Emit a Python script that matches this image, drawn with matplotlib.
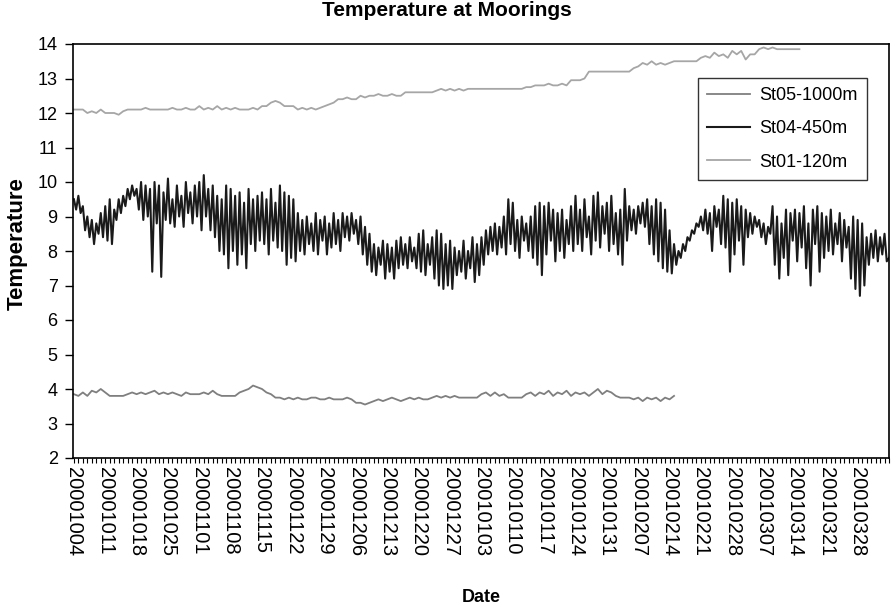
import numpy as np
import matplotlib
matplotlib.use("Agg")
import matplotlib.pyplot as plt
from matplotlib.ticker import FixedLocator, NullFormatter

plt.rcParams['font.family'] = ['Liberation Sans', 'DejaVu Sans']

# ---------------- data ----------------
tick_labels = ["20001004", "20001011", "20001018", "20001025", "20001101",
               "20001108", "20001115", "20001122", "20001129", "20001206",
               "20001213", "20001220", "20001227", "20010103", "20010110",
               "20010117", "20010124", "20010131", "20010207", "20010214",
               "20010221", "20010228", "20010307", "20010314", "20010321",
               "20010328"]

# St05-1000m, daily values (day 0 = 20001004)
st05_1000m = [
    3.85, 3.8, 3.9, 3.8, 3.95, 3.9, 4.0,
    3.9, 3.8, 3.8, 3.8, 3.8, 3.85, 3.9,
    3.85, 3.9, 3.85, 3.9, 3.95, 3.85, 3.9,
    3.85, 3.9, 3.85, 3.8, 3.9, 3.85, 3.85,
    3.85, 3.9, 3.85, 3.95, 3.85, 3.8, 3.8,
    3.8, 3.8, 3.9, 3.95, 4.0, 4.1, 4.05,
    4.0, 3.9, 3.85, 3.75, 3.75, 3.7, 3.75,
    3.7, 3.75, 3.7, 3.7, 3.75, 3.75, 3.7,
    3.7, 3.75, 3.7, 3.7, 3.7, 3.75, 3.7,
    3.6, 3.6, 3.55, 3.6, 3.65, 3.7, 3.65,
    3.7, 3.75, 3.7, 3.65, 3.7, 3.75, 3.7,
    3.75, 3.7, 3.7, 3.75, 3.8, 3.75, 3.8,
    3.75, 3.8, 3.75, 3.75, 3.75, 3.75, 3.75,
    3.85, 3.9, 3.8, 3.9, 3.8, 3.85, 3.75,
    3.75, 3.75, 3.75, 3.85, 3.9, 3.8, 3.9,
    3.85, 3.95, 3.8, 3.9, 3.85, 3.95, 3.8,
    3.9, 3.85, 3.9, 3.8, 3.9, 4.0, 3.85,
    3.95, 3.9, 3.8, 3.75, 3.75, 3.75, 3.7,
    3.75, 3.65, 3.75, 3.7, 3.75, 3.65, 3.75,
    3.7, 3.8,
]

# St04-450m, half-daily values
st04_450m = [
    9.5, 9.2, 9.6, 9.1, 9.3, 8.6, 9.0, 8.4, 8.9, 8.2, 8.8, 8.5, 9.1, 8.4,
    9.3, 8.3, 9.5, 8.2, 9.2, 8.9, 9.5, 9.1, 9.6, 9.3, 9.8, 9.5, 9.9, 9.6,
    9.8, 9.2, 10.0, 8.9, 9.9, 9.0, 9.8, 7.4, 10.0, 8.8, 9.9, 7.25, 9.7, 8.9,
    10.1, 8.8, 9.5, 8.7, 9.9, 9.0, 9.6, 8.7, 10.0, 9.1, 9.7, 8.8, 9.9, 9.0,
    10.0, 8.6, 10.2, 9.0, 9.8, 8.6, 9.9, 8.4, 9.6, 8.0, 9.5, 7.9, 9.9, 7.5,
    9.8, 8.0, 9.6, 7.6, 9.7, 7.9, 9.4, 7.5, 9.8, 8.2, 9.5, 8.0, 9.6, 8.3,
    9.7, 8.2, 9.5, 7.9, 9.8, 8.3, 9.4, 8.1, 9.9, 8.0, 9.7, 7.6, 9.6, 7.8,
    9.5, 7.7, 9.1, 8.0, 8.9, 7.9, 9.0, 8.2, 8.8, 8.0, 9.1, 7.9, 8.9, 8.3,
    9.0, 7.9, 8.8, 8.1, 9.1, 8.2, 8.9, 8.0, 9.1, 8.4, 9.0, 8.3, 9.1, 8.5,
    8.9, 8.2, 9.0, 7.9, 8.7, 7.6, 8.5, 7.4, 8.2, 7.3, 8.1, 7.6, 8.3, 7.2,
    8.2, 7.4, 8.1, 7.2, 8.3, 7.5, 8.4, 7.6, 8.2, 7.5, 8.4, 7.7, 8.1, 7.5,
    8.5, 7.4, 8.6, 7.3, 8.2, 7.6, 8.4, 7.2, 8.6, 7.0, 8.5, 6.9, 8.2, 7.0,
    8.3, 6.9, 8.1, 7.3, 8.0, 7.4, 8.3, 7.2, 8.0, 7.5, 8.4, 7.1, 8.2, 7.3,
    8.4, 7.6, 8.6, 7.9, 8.7, 8.0, 8.8, 7.9, 8.7, 8.1, 9.0, 7.9, 9.5, 8.2,
    9.4, 8.0, 8.9, 7.8, 9.0, 8.3, 8.8, 8.0, 9.0, 7.8, 9.3, 7.6, 9.4, 7.3,
    9.3, 7.9, 9.4, 8.3, 9.2, 7.7, 9.1, 8.0, 9.2, 7.8, 8.9, 8.2, 9.3, 8.0,
    9.6, 8.2, 9.2, 8.0, 9.5, 8.4, 9.0, 7.9, 9.6, 8.3, 9.7, 8.1, 9.3, 8.5,
    9.4, 8.0, 9.6, 8.2, 9.1, 7.9, 9.2, 7.6, 9.8, 8.3, 9.3, 8.6, 9.2, 8.5,
    9.3, 8.8, 9.4, 8.7, 9.5, 8.2, 9.3, 7.9, 9.5, 7.7, 9.4, 7.5, 9.2, 7.4,
    8.6, 7.35, 8.2, 7.6, 8.0, 7.8, 8.2, 8.0, 8.4, 8.3, 8.6, 8.5, 8.8, 8.7,
    9.0, 8.6, 9.2, 8.5, 9.1, 8.0, 9.3, 8.7, 9.2, 8.2, 9.6, 8.1, 9.5, 7.4,
    9.4, 7.9, 9.5, 8.3, 9.3, 7.6, 9.2, 8.4, 9.1, 8.5, 9.0, 8.7, 8.9, 8.4,
    8.8, 8.2, 8.7, 8.5, 9.3, 7.6, 9.0, 7.2, 8.8, 7.8, 9.2, 7.3, 9.1, 8.3,
    9.2, 7.7, 9.1, 8.1, 9.3, 7.5, 8.8, 7.0, 9.2, 8.2, 9.3, 7.4, 9.1, 7.8,
    9.0, 8.0, 9.2, 7.9, 8.8, 8.2, 9.1, 7.7, 8.9, 8.1, 8.7, 7.2, 9.0, 6.9,
    8.9, 6.7, 8.8, 7.0, 8.4, 7.6, 8.5, 7.8, 8.6, 7.7, 8.4, 7.9, 8.5, 7.7,
    7.8,
]

# St01-120m, daily values
st01_120m = [
    12.1, 12.1, 12.1, 12.0, 12.05, 12.0, 12.1,
    12.0, 12.0, 12.0, 11.95, 12.05, 12.1, 12.1,
    12.1, 12.1, 12.15, 12.1, 12.1, 12.1, 12.1,
    12.1, 12.15, 12.1, 12.1, 12.15, 12.1, 12.1,
    12.2, 12.1, 12.15, 12.1, 12.2, 12.1, 12.15,
    12.1, 12.15, 12.1, 12.1, 12.1, 12.15, 12.1,
    12.2, 12.2, 12.3, 12.35, 12.3, 12.2, 12.2,
    12.2, 12.1, 12.15, 12.1, 12.15, 12.1, 12.15,
    12.2, 12.25, 12.3, 12.4, 12.4, 12.45, 12.4,
    12.4, 12.5, 12.45, 12.5, 12.5, 12.55, 12.5,
    12.5, 12.55, 12.5, 12.5, 12.6, 12.6, 12.6,
    12.6, 12.6, 12.6, 12.6, 12.65, 12.7, 12.65,
    12.7, 12.65, 12.7, 12.65, 12.7, 12.7, 12.7,
    12.7, 12.7, 12.7, 12.7, 12.7, 12.7, 12.7,
    12.7, 12.7, 12.7, 12.75, 12.75, 12.8, 12.8,
    12.8, 12.85, 12.8, 12.8, 12.85, 12.8, 12.95,
    12.95, 12.95, 13.0, 13.2, 13.2, 13.2, 13.2,
    13.2, 13.2, 13.2, 13.2, 13.2, 13.2, 13.3,
    13.35, 13.45, 13.4, 13.5, 13.4, 13.45, 13.4,
    13.45, 13.5, 13.5, 13.5, 13.5, 13.5, 13.5,
    13.6, 13.65, 13.6, 13.75, 13.65, 13.7, 13.6,
    13.8, 13.7, 13.8, 13.55, 13.7, 13.7, 13.85,
    13.9, 13.85, 13.9, 13.85, 13.85, 13.85, 13.85,
    13.85, 13.85,
]

n_days = 182

# ---------------- figure ----------------
W, H = 891, 607
fig = plt.figure(figsize=(W / 100, H / 100), dpi=100)
ax = fig.add_axes([73 / W, 1 - 458 / H, 816 / W, 414 / H])

x05 = np.arange(len(st05_1000m))
x04 = np.arange(len(st04_450m)) * 0.5
x01 = np.arange(len(st01_120m))

l1, = ax.plot(x05, st05_1000m, color='#7f7f7f', lw=1.3, label='St05-1000m')
l2, = ax.plot(x04, st04_450m, color='#1a1a1a', lw=1.5, label='St04-450m')
l3, = ax.plot(x01, st01_120m, color='#a6a6a6', lw=1.3, label='St01-120m')

ax.set_xlim(-0.2, n_days)
ax.set_ylim(2, 14)
ax.set_yticks(range(2, 15))

major = np.arange(len(tick_labels)) * 7
ax.xaxis.set_major_locator(FixedLocator(major))
ax.set_xticklabels(tick_labels, rotation=-90)
ax.xaxis.set_minor_locator(FixedLocator(np.arange(0, n_days + 1)))
ax.xaxis.set_minor_formatter(NullFormatter())

ax.tick_params(axis='x', which='both', direction='out', length=3.5, width=0.8,
               labelsize=14.5, pad=3)
ax.tick_params(axis='y', direction='out', length=6, width=1, labelsize=13, pad=5)

for s in ax.spines.values():
    s.set_linewidth(1.2)
    s.set_color('black')

leg = fig.legend(handles=[l1, l2, l3], loc='upper left',
                 bbox_to_anchor=(698 / W, 1 - 78 / H), borderaxespad=0,
                 frameon=True, fancybox=False, edgecolor='black',
                 fontsize=13, handlelength=2.4, handletextpad=0.5,
                 labelspacing=0.9, borderpad=0.5)
leg.get_frame().set_linewidth(1.0)

fig.text(447 / W, 1 - 11 / H, 'Temperature at Moorings', ha='center',
         va='center', fontsize=15, fontweight='bold')
fig.text(17 / W, 1 - 244 / H, 'Temperature', ha='center', va='center',
         rotation=90, fontsize=16, fontweight='bold')
fig.text(481 / W, 1 - 598 / H, 'Date', ha='center', va='center',
         fontsize=13, fontweight='bold')

fig.savefig('out.png', dpi=100)
